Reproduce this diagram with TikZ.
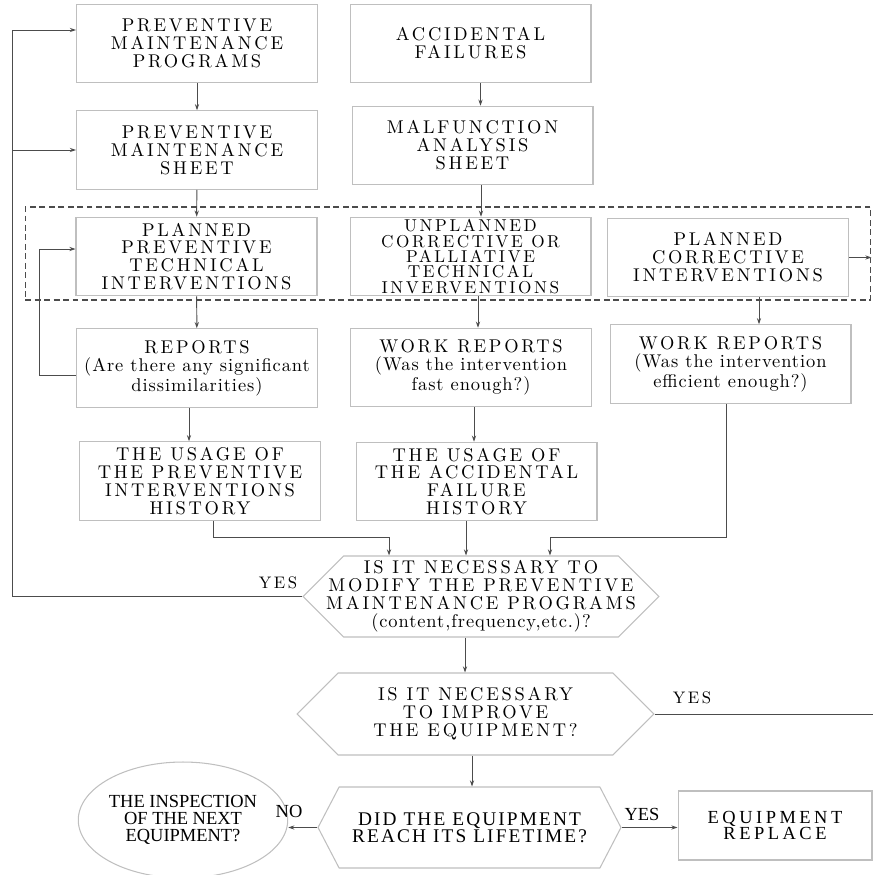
\documentclass[tikz,border=0pt]{standalone}
\usepackage{fontspec}
\usepackage{tikz}
\usetikzlibrary{arrows.meta}
\usetikzlibrary{shapes.symbols}
\usetikzlibrary{shapes.geometric}
\newfontfamily\timesfont{Liberation Serif}
\newfontfamily\lmsp{lmroman10-regular.otf}[LetterSpace=15]
\newfontfamily\lmlow{lmroman10-regular.otf}[LetterSpace=5]
\newcommand{\lc}[1]{{\lmlow#1}}

\begin{document}
\begin{tikzpicture}[x=0.02cm,y=-0.02cm]
    \tikzstyle{blk}=[draw=black!25, line width=0.6pt, align=center, minimum width=4.82cm, minimum height=1.57cm, inner sep=2pt, font=\lmsp\fontsize{10.5}{10.2}\selectfont];
    \tikzstyle{hexa}=[blk, shape=signal, signal to=east and west, signal pointer angle=90, inner xsep=-1cm, minimum width=7.12cm, minimum height=1.62cm];
    \tikzstyle{ln}=[draw=black!70, line width=0.55pt];
    \tikzstyle{arr}=[ln, -{Stealth[length=3.5pt,width=2.4pt]}];
    \tikzstyle{lbl}=[inner sep=1pt, font=\lmsp\fontsize{9.5}{10}\selectfont];
    \tikzstyle{tlbl}=[inner sep=1pt, font=\timesfont\fontsize{10.5}{10}\selectfont];
    \useasboundingbox (0,0) rectangle (873,875);

    \node[draw=black!70, line width=0.6pt, dash pattern=on 3.4pt off 2pt, minimum width=16.92cm, minimum height=1.86cm] (band) at (448,253.5) {};

    \node[blk] (pmp) at (197,43.5) {PREVENTIVE\\MAINTENANCE\\PROGRAMS};
    \node[blk] (acc) at (470.5,43.5) {ACCIDENTAL\\FAILURES};
    \node[blk] (pms) at (197,150) {PREVENTIVE\\MAINTENANCE\\SHEET};
    \node[blk] (mas) at (472.5,145.5) {MALFUNCTION\\ANALYSIS\\SHEET};
    \node[blk] (ppti) at (196.5,256.5) {PLANNED\\PREVENTIVE\\TECHNICAL\\INTERVENTIONS};
    \node[blk, inner sep=0pt, font=\lmsp\fontsize{9.8}{8.7}\selectfont] (ucpti) at (470.5,256.5) {UNPLANNED\\CORRECTIVE OR\\PALLIATIVE\\TECHNICAL\\INVERVENTIONS};
    \node[blk] (pci) at (728,257.5) {PLANNED\\CORRECTIVE\\INTERVENTIONS};
    \node[blk] (rep) at (197,368) {REPORTS\\\lc{(Are there any significant}\\\lc{dissimilarities)}};
    \node[blk] (wrmid) at (471,367.5) {WORK REPORTS\\\lc{(Was the intervention}\\\lc{fast enough?)}};
    \node[blk] (wrright) at (730.5,364) {WORK REPORTS\\\lc{(Was the intervention}\\\lc{efficient enough?)}};
    \node[blk] (usep) at (200,481) {THE USAGE OF\\THE PREVENTIVE\\INTERVENTIONS\\HISTORY};
    \node[blk] (usea) at (476.5,481.5) {THE USAGE OF\\THE ACCIDENTAL\\FAILURE\\HISTORY};

    \node[hexa] (hex1) at (481,596.5) {IS IT NECESSARY TO\\MODIFY THE PREVENTIVE\\MAINTENANCE PROGRAMS\\\lc{(content,frequency,etc.)?}};
    \node[hexa, minimum width=7.14cm, minimum height=1.64cm] (hex2) at (475.5,714) {IS IT NECESSARY\\TO IMPROVE\\THE EQUIPMENT?};
    \node[hexa, signal pointer angle=125, minimum width=6.06cm, font=\timesfont\fontsize{11}{9.6}\selectfont\addfontfeature{LetterSpace=11}] (hex3) at (469.5,827.5) {DID THE EQUIPMENT\\REACH ITS LIFETIME?};
    \node[draw=black!25, line width=0.6pt, ellipse, minimum width=3.2cm, minimum height=2.32cm, inner sep=0pt, align=center, font=\timesfont\fontsize{10.5}{9.6}\selectfont] (insp) at (183,820) {THE INSPECTION\\OF THE NEXT\\EQUIPMENT?};
    \node[blk, minimum width=3.88cm, minimum height=1.38cm, font=\timesfont\fontsize{10.5}{9.5}\selectfont\addfontfeature{LetterSpace=19}] (repl) at (775,825.5) {EQUIPMENT\\REPLACE};

    \draw[arr] (pmp) -- (pms);
    \draw[arr] ([xshift=0.2cm]acc.south) -- ([xshift=0.2cm]acc.south |- mas.north);
    \draw[arr] (pms) -- (ppti);
    \draw[arr] ([xshift=0.17cm]mas.south) -- ([xshift=0.17cm]mas.south |- ucpti.north);
    \draw[arr] (ppti) -- (rep);
    \draw[arr] ([xshift=0.15cm]ucpti.south) -- ([xshift=0.15cm]ucpti.south |- wrmid.north);
    \draw[arr] ([xshift=0.62cm]pci.south) -- ([xshift=0.62cm]pci.south |- wrright.north);
    \draw[arr] (pci.east) -- (band.east |- pci.east);
    \draw[arr] ([yshift=-0.14cm]rep.west) -- ++(-0.74cm,0) |- ([yshift=0.15cm]ppti.west);
    \draw[arr] ([xshift=-0.16cm]rep.south) -- ([xshift=-0.16cm]rep.south |- usep.north);
    \draw[arr] ([xshift=0.06cm]wrmid.south) -- ([xshift=0.06cm]wrmid.south |- usea.north);

    \draw[arr] ([xshift=0.26cm]usep.south) -- ++(0,-0.34cm) -| ([xshift=-1.84cm]hex1.north);
    \draw[arr] ([xshift=-0.21cm]usea.south) -- ([xshift=-0.21cm]usea.south |- hex1.north);
    \draw[arr] ([xshift=-0.09cm]wrright.south) -- ++(0,-2.68cm) -| ([xshift=1.38cm]hex1.north);

    \coordinate (lt) at (12,30);
    \draw[ln] (hex1.west) -| (lt);
    \draw[arr] (lt) -- (lt -| pmp.west);
    \draw[arr] (lt |- pms.west) -- (pms.west);
    \node[lbl] (yes1) at (278,583) {YES};

    \draw[arr] ([xshift=-0.32cm]hex1.south) -- ([xshift=-0.32cm]hex1.south |- hex2.north);
    \coordinate (rt) at (873,710);
    \draw[ln] (hex2.east) -- (hex2.east -| rt);
    \node[lbl] (yes2) at (692,698) {YES};
    \draw[arr] ([xshift=-0.07cm]hex2.south) -- ([xshift=-0.07cm]hex2.south |- hex3.north);

    \draw[arr] (hex3.west) -- (hex3.west -| insp.east);
    \node[tlbl] (no) at (289,811) {NO};
    \draw[arr] (hex3.east) -- (hex3.east -| repl.west);
    \node[tlbl] (yes3) at (642,814) {YES};
\end{tikzpicture}
\end{document}
